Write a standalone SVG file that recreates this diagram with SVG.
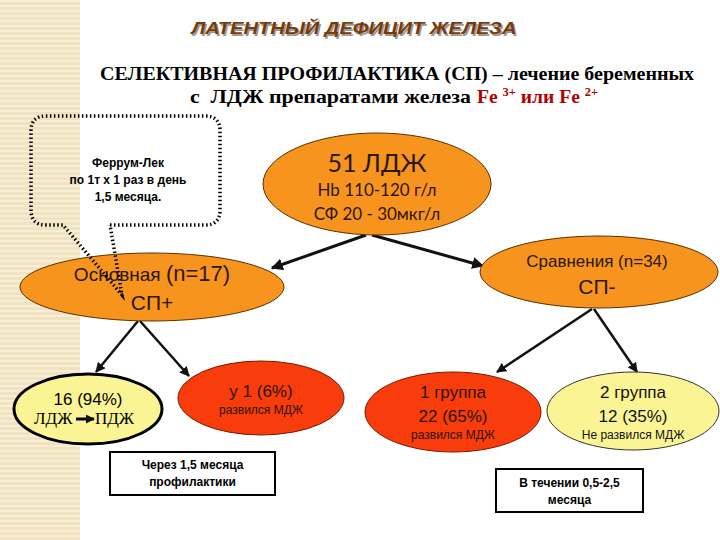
<svg xmlns="http://www.w3.org/2000/svg" width="720" height="540" viewBox="0 0 720 540">
<defs>
<pattern id="stripes" width="8" height="5" patternUnits="userSpaceOnUse">
<rect width="8" height="5" fill="#F1E3C2"/>
<rect y="0" width="8" height="2" fill="#F8EED6"/>
</pattern>
<marker id="ah" viewBox="0 0 10 10" refX="9" refY="5" markerWidth="4" markerHeight="4" orient="auto" markerUnits="strokeWidth">
<path d="M0,0 L10,5 L0,10 z" fill="#111"/>
</marker>
<marker id="ahs" viewBox="0 0 10 10" refX="9" refY="5" markerWidth="3" markerHeight="3" orient="auto" markerUnits="strokeWidth">
<path d="M0,0 L10,5 L0,10 z" fill="#111"/>
</marker>
</defs>
<style>
.sans{font-family:"Liberation Sans",Arial,sans-serif}
.serif{font-family:"Liberation Serif","Times New Roman",serif}
.cal{font-family:Lato,"Open Sans",sans-serif}
.orange{fill:#F7941D;stroke:#5a3000;stroke-width:1}
.red{fill:#F83C0C;stroke:#7a1a00;stroke-width:1}
.yellow{fill:#FBF494}
.dark{fill:#2b1600}
.conn{stroke:#111;stroke-width:3;fill:none;marker-end:url(#ah)}
.conn2{stroke:#111;stroke-width:2.5;fill:none;marker-end:url(#ah)}
.box{fill:#fff;stroke:#000;stroke-width:2}
.bold12{font-family:"Liberation Sans",Arial,sans-serif;font-weight:bold;font-size:12px;fill:#000}
</style>
<rect width="720" height="540" fill="#fff"/>
<rect x="0" y="0" width="80" height="540" fill="url(#stripes)"/>

<g id="title">
<text x="355.5" y="35.5" text-anchor="middle" class="sans" font-size="17" font-weight="bold" font-style="italic" fill="#999" textLength="325" lengthAdjust="spacingAndGlyphs">ЛАТЕНТНЫЙ ДЕФИЦИТ ЖЕЛЕЗА</text>
<text x="354" y="34" text-anchor="middle" class="sans" font-size="17" font-weight="bold" font-style="italic" fill="#7B3A05" textLength="325" lengthAdjust="spacingAndGlyphs">ЛАТЕНТНЫЙ ДЕФИЦИТ ЖЕЛЕЗА</text>
</g>
<g id="subtitle">
<text x="397" y="80" text-anchor="middle" class="serif" font-size="18" font-weight="bold" fill="#000" textLength="594" lengthAdjust="spacingAndGlyphs">СЕЛЕКТИВНАЯ ПРОФИЛАКТИКА (СП) – лечение беременных</text>
<text x="190" y="103" class="serif" font-size="19" font-weight="bold" fill="#000" xml:space="preserve" textLength="281" lengthAdjust="spacingAndGlyphs">с  ЛДЖ препаратами железа</text>
<text x="477" y="103" class="serif" font-size="19" font-weight="bold" fill="#B00000" textLength="121" lengthAdjust="spacingAndGlyphs">Fe <tspan font-size="12" dy="-7">3+</tspan><tspan dy="7"> или Fe </tspan><tspan font-size="12" dy="-7">2+</tspan></text>
</g>

<g id="connectors">
<line x1="366" y1="235" x2="272" y2="268" class="conn"/>
<line x1="372" y1="235" x2="483" y2="266" class="conn"/>
<line x1="138" y1="321" x2="96" y2="372" class="conn2"/>
<line x1="140" y1="321" x2="189" y2="376" class="conn2"/>
<line x1="592" y1="309" x2="497" y2="372" class="conn2"/>
<line x1="594" y1="309" x2="637" y2="372" class="conn2"/>
</g>

<g id="node-51">
<ellipse cx="377" cy="184" rx="114" ry="51" class="orange"/>
<text x="377" y="172" text-anchor="middle" class="cal dark" font-size="25">51 ЛДЖ</text>
<text x="377" y="196" text-anchor="middle" class="cal dark" font-size="17">Hb 110-120 г/л</text>
<text x="377" y="220" text-anchor="middle" class="cal dark" font-size="17">СФ 20 - 30мкг/л</text>
</g>

<g id="node-osnovnaya">
<ellipse cx="152" cy="287" rx="132" ry="34" class="orange"/>
<text x="152" y="281" text-anchor="middle" class="sans dark" font-size="19">Основная <tspan font-size="22">(n=17)</tspan></text>
<text x="152" y="310" text-anchor="middle" class="sans dark" font-size="21">СП+</text>
</g>

<g id="node-sravneniya">
<ellipse cx="599" cy="272" rx="119" ry="36" class="orange"/>
<text x="597" y="267" text-anchor="middle" class="sans dark" font-size="17">Сравнения (n=34)</text>
<text x="597" y="294" text-anchor="middle" class="sans dark" font-size="21">СП-</text>
</g>

<g id="node-16">
<ellipse cx="88" cy="409" rx="74" ry="35" class="yellow" stroke="#000" stroke-width="3"/>
<text x="88" y="405" text-anchor="middle" class="sans" font-size="17" fill="#000">16 (94%)</text>
<text x="34" y="424" class="serif" font-size="17" fill="#000">ЛДЖ</text>
<line x1="76" y1="419" x2="94" y2="419" stroke="#000" stroke-width="3" marker-end="url(#ahs)"/>
<text x="95" y="424" class="serif" font-size="17" fill="#000">ПДЖ</text>
</g>

<g id="node-u1">
<ellipse cx="261" cy="398" rx="83" ry="37" class="red"/>
<text x="261" y="397" text-anchor="middle" class="sans dark" font-size="17">у 1 (6%)</text>
<text x="261" y="414" text-anchor="middle" class="sans dark" font-size="12">развился МДЖ</text>
</g>

<g id="node-g1">
<ellipse cx="453" cy="412" rx="88" ry="40" class="red"/>
<text x="453" y="398" text-anchor="middle" class="sans dark" font-size="17">1 группа</text>
<text x="453" y="422" text-anchor="middle" class="sans dark" font-size="17">22 (65%)</text>
<text x="453" y="439" text-anchor="middle" class="sans dark" font-size="12">развился МДЖ</text>
</g>

<g id="node-g2">
<ellipse cx="633" cy="411" rx="86" ry="39" class="yellow" stroke="#333" stroke-width="1"/>
<text x="633" y="398" text-anchor="middle" class="sans" font-size="17" fill="#111">2 группа</text>
<text x="633" y="422" text-anchor="middle" class="sans" font-size="17" fill="#111">12 (35%)</text>
<text x="633" y="439" text-anchor="middle" class="sans" font-size="12" fill="#111">Не развился МДЖ</text>
</g>

<g id="box-cherez">
<rect x="110" y="452" width="165" height="43" class="box"/>
<text x="192.5" y="469" text-anchor="middle" class="bold12">Через 1,5 месяца</text>
<text x="192.5" y="486" text-anchor="middle" class="bold12">профилактики</text>
</g>

<g id="box-vtechenii">
<rect x="496" y="469" width="147" height="43" class="box" stroke-width="2.5"/>
<text x="569.5" y="487" text-anchor="middle" class="bold12">В течении 0,5-2,5</text>
<text x="569.5" y="504" text-anchor="middle" class="bold12">месяца</text>
</g>

<g id="callout">
<path d="M110,225 L205,225 Q220,225 220,210 L220,131 Q220,116 205,116 L46,116 Q31,116 31,131 L31,210 Q31,225 46,225 L63,225 L122,295 L110,225" fill="none" stroke="#000" stroke-width="3.5" stroke-dasharray="1.5 2.5" stroke-linecap="butt"/>
<text x="128" y="167" text-anchor="middle" class="bold12" font-size="11.5">Феррум-Лек</text>
<text x="128" y="184" text-anchor="middle" class="bold12" font-size="11.5">по 1т х 1 раз в день</text>
<text x="128" y="201" text-anchor="middle" class="bold12" font-size="11.5">1,5 месяца.</text>
</g>
</svg>
